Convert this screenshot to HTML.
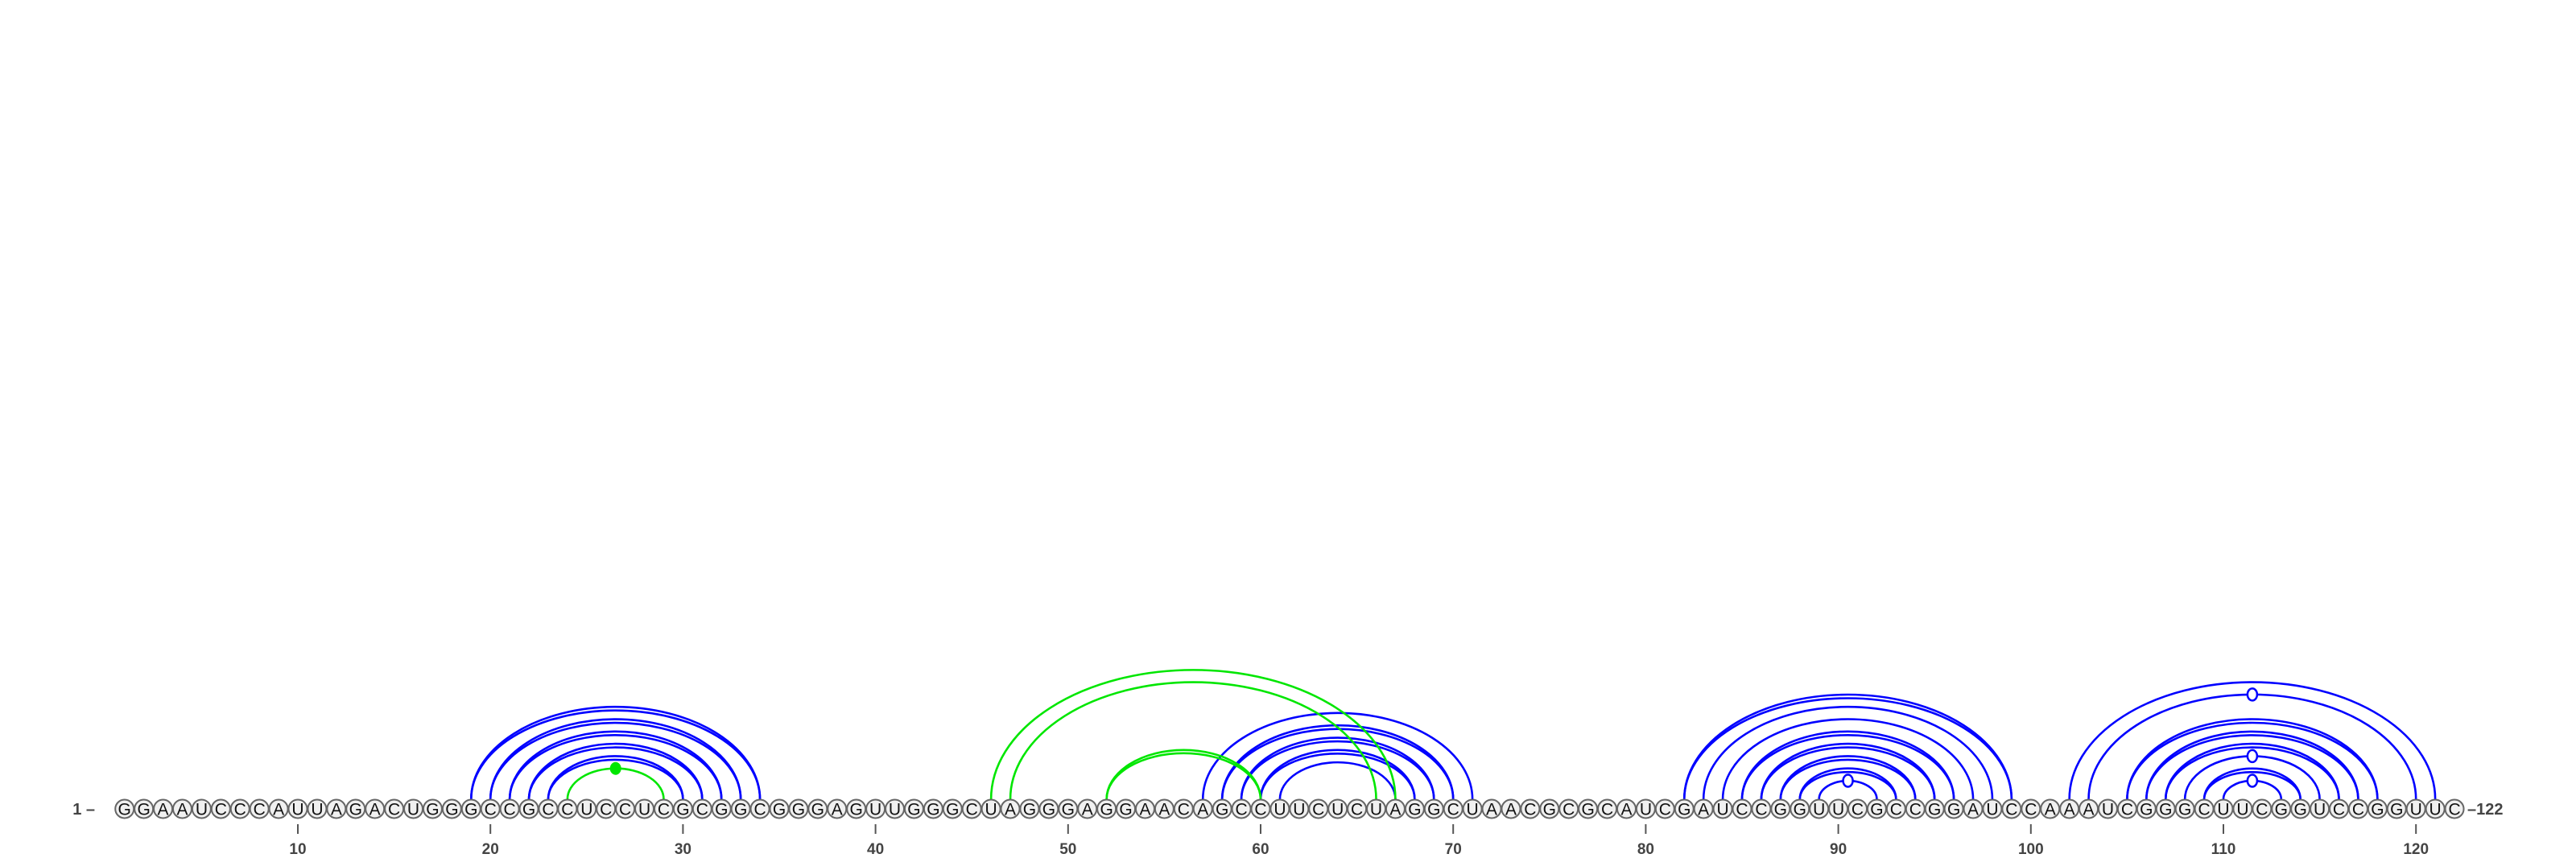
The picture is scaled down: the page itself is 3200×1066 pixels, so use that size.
<!DOCTYPE html>
<html><head><meta charset="utf-8"><style>
html,body{margin:0;padding:0;background:#fff;}
svg{display:block;}
</style></head><body>
<svg id="chart" width="3200" height="1066" viewBox="0 0 3200 1066" xmlns="http://www.w3.org/2000/svg">
<g id="arcs"></g>
<g id="nts"></g>
<g id="ticks"></g>
</svg>
<script>
const sequence = "GGAAUCCCAUUAGACUGGGCCGCCUCCUCGCGGCGGGAGUUGGGCUAGGGAGGAACAGCCUUCUCUAGGCUAACGCGCAUCGAUCCGGUUCGCCGGAUCCAAAUCGGGCUUCGGUCCGGUUC";
const bluePairsDouble = [[19,34],[20,33],[21,32],[22,31],[23,30],[58,70],[59,69],[60,68],[82,99],[85,96],[86,95],[87,94],[88,93],[105,118],[106,117],[107,116],[109,114]];
const bluePairsSingle = [[57,71],[61,67],[83,98],[84,97],[89,92],[102,121],[103,120],[108,115],[110,113]];
const greenPairsDouble = [[52,60]];
const greenPairsSingle = [[24,29],[46,67],[47,66]];
const openMarkers = [[89,92],[103,120],[108,115],[110,113]];
const filledMarkers = [[24,29]];
const tickValues = [10,20,30,40,50,60,70,80,90,100,110,120];

const NS="http://www.w3.org/2000/svg";
const rowY=1005, arcBaseY=993;
function xPos(i){ return 370 + (i-10)*23.92; }
function arcH(r){ return 0.64*r; }
function mk(tag, attrs, parent){ const e=document.createElementNS(NS,tag); for(const k in attrs) e.setAttribute(k,attrs[k]); parent.appendChild(e); return e; }
const arcs=document.getElementById('arcs'), nts=document.getElementById('nts'), ticks=document.getElementById('ticks');

function drawArc(p, color, dh){
  const x1=xPos(p[0]), x2=xPos(p[1]); const r=(x2-x1)/2; const h=arcH(r)-dh;
  const el=mk('path',{d:`M${x1},${arcBaseY} A${r},${h} 0 0 1 ${x2},${arcBaseY}`,fill:'none',stroke:color,'stroke-width':2.6},arcs);
  
  
}
bluePairsSingle.forEach(p=>drawArc(p,'#0000ff',0));
bluePairsDouble.forEach(p=>{drawArc(p,'#0000ff',0);drawArc(p,'#0000ff',4.5);});
greenPairsSingle.forEach(p=>drawArc(p,'#00e600',0));
greenPairsDouble.forEach(p=>{drawArc(p,'#00e600',0);drawArc(p,'#00e600',4);});
openMarkers.forEach(p=>{
  const cx=(xPos(p[0])+xPos(p[1]))/2, r=(xPos(p[1])-xPos(p[0]))/2;
  const el=mk('ellipse',{cx:cx,cy:arcBaseY-arcH(r),rx:6,ry:7.5,fill:'#fff',stroke:'#0000ff','stroke-width':2.5},arcs);
  
  
});
filledMarkers.forEach(p=>{
  const cx=(xPos(p[0])+xPos(p[1]))/2, r=(xPos(p[1])-xPos(p[0]))/2;
  const el=mk('ellipse',{cx:cx,cy:arcBaseY-arcH(r),rx:7,ry:8,fill:'#00e600'},arcs);
  
  
});
for(let i=1;i<=sequence.length;i++){
  const g=mk('g',{},nts);
  
  
  mk('circle',{cx:xPos(i),cy:rowY,r:11.5,fill:'#f0f0f0',stroke:'#666','stroke-width':2},g);
  const t=mk('text',{x:xPos(i),y:rowY+7.5,'text-anchor':'middle','font-family':'Liberation Sans, sans-serif','font-size':21,fill:'#111'},g);
  t.textContent=sequence[i-1];
}
const s=mk('text',{x:118,y:rowY+7,'text-anchor':'end','font-family':'Liberation Sans, sans-serif','font-size':20,'font-weight':'bold',fill:'#444'},ticks);
s.textContent='1 –';


const e=mk('text',{x:xPos(sequence.length)+16,y:rowY+7,'font-family':'Liberation Sans, sans-serif','font-size':20,'font-weight':'bold',fill:'#444'},ticks);
e.textContent='–'+sequence.length;


tickValues.forEach(v=>{
  const l=mk('line',{x1:xPos(v),x2:xPos(v),y1:1024,y2:1036,stroke:'#555','stroke-width':2},ticks);
  
  
  const t=mk('text',{x:xPos(v),y:1061,'text-anchor':'middle','font-family':'Liberation Sans, sans-serif','font-size':19,'font-weight':'bold',fill:'#444'},ticks);
  t.textContent=v;
  
  
});
</script>
</body></html>
